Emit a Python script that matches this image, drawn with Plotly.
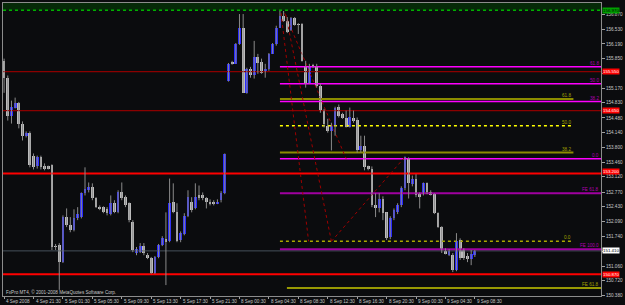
import plotly.graph_objects as go

# ---- candle data (EURJPY M30) ----
open_ = [155.80,155.41,154.53,154.72,154.83,154.35,154.07,154.14,153.61,153.36,
         153.57,153.36,153.36,153.39,151.52,151.54,151.15,152.19,152.00,151.89,
         152.16,152.19,152.74,152.81,152.88,152.63,152.42,152.42,152.37,152.26,
         152.51,152.30,152.76,152.65,152.51,152.07,151.36,151.38,151.52,151.31,
         151.24,150.90,151.27,151.54,151.68,151.63,152.53,152.30,151.66,151.80,
         152.21,152.53,152.39,152.69,152.69,152.63,152.55,152.55,152.51,152.58,
         152.74,155.34,155.75,155.73,156.19,156.56,155.06,155.62,155.48,155.89,
         155.78,155.55,155.62,155.96,156.19,156.56,156.84,156.72,156.51,156.79,
         156.65,156.65,155.68,155.27,155.71,155.68,155.22,154.65,154.30,154.19,
         154.30,154.74,154.56,154.49,154.26,154.49,154.44,153.73,153.84,153.36,
         153.31,152.46,152.40,152.60,152.30,151.73,152.16,152.30,152.46,152.86,
         153.54,152.95,153.08,152.74,152.74,152.97,152.76,152.72,152.28,151.96,
         151.40,151.31,151.31,150.97,151.66,151.43,151.29,151.22,151.31]
high_ = [155.85,155.46,154.88,154.95,154.85,154.40,154.17,154.17,153.66,153.61,
         153.61,153.43,153.38,153.41,151.57,151.59,152.23,152.39,152.19,152.37,
         152.42,152.76,153.34,152.99,152.97,152.65,152.46,152.44,152.42,152.69,
         152.58,152.81,152.99,152.69,152.53,152.12,151.50,151.59,151.59,151.36,
         151.27,151.29,151.57,151.75,152.30,153.08,152.97,152.51,151.86,152.28,
         152.81,152.65,152.97,152.92,152.76,152.65,152.60,152.58,152.60,152.79,
         153.66,155.75,155.80,156.21,156.88,156.88,155.64,155.66,156.26,155.96,
         155.85,155.73,155.98,156.21,156.61,156.95,156.95,156.81,156.81,156.81,
         156.67,156.67,155.80,155.73,155.73,155.73,155.27,154.69,154.46,154.37,
         154.74,154.79,154.60,154.65,154.72,154.65,154.49,154.07,154.07,153.38,
         153.36,152.74,152.74,152.67,152.30,152.21,152.39,152.51,152.90,153.59,
         153.57,153.15,153.18,152.76,152.99,152.99,152.81,152.74,152.30,151.98,
         151.47,151.45,151.36,151.82,151.70,151.47,151.36,151.43,151.43]
low_ = [155.06,154.42,154.35,154.70,154.24,153.96,154.03,153.34,153.29,153.31,
        153.29,153.27,153.29,151.43,151.43,150.51,151.13,151.96,151.84,151.86,
        152.12,152.16,152.69,152.76,152.58,152.40,152.35,152.28,152.23,152.23,
        152.28,152.28,152.58,152.42,152.07,151.38,151.31,151.36,151.31,151.22,
        150.88,150.88,151.24,151.52,150.62,151.61,152.28,151.61,151.61,151.77,
        152.19,152.30,152.37,152.58,152.58,152.39,152.46,152.46,152.49,152.53,
        152.72,155.32,155.71,155.73,156.17,155.06,155.04,155.41,155.39,155.50,
        155.50,155.41,155.57,155.96,156.15,156.56,156.70,156.44,156.49,156.61,
        156.42,155.78,155.18,155.27,155.64,155.18,154.60,154.26,154.14,153.73,
        154.07,154.49,154.46,154.26,154.26,154.37,153.68,153.68,153.27,153.27,
        152.42,152.19,152.30,152.12,151.66,151.68,152.12,152.26,152.42,152.81,
        152.62,152.90,152.65,152.39,152.69,152.72,152.69,152.26,151.94,151.36,
        151.33,151.29,150.92,150.94,151.20,151.20,151.15,151.08,151.27]
close_ = [155.41,154.53,154.74,154.83,154.35,154.07,154.14,153.39,153.34,153.57,
          153.34,153.31,153.31,151.50,151.50,151.15,152.19,152.00,151.89,152.16,
          152.26,152.74,152.83,152.88,152.63,152.42,152.40,152.30,152.28,152.51,
          152.30,152.76,152.63,152.46,152.12,151.43,151.45,151.52,151.36,151.24,
          150.90,151.27,151.54,151.70,151.61,152.51,152.30,151.63,151.82,152.21,
          152.65,152.35,152.65,152.65,152.63,152.53,152.51,152.51,152.55,152.74,
          153.64,155.73,155.73,156.19,156.56,155.06,155.62,155.48,155.89,155.75,
          155.52,155.62,155.96,156.19,156.56,156.84,156.72,156.47,156.79,156.63,
          156.63,155.80,155.27,155.68,155.66,155.22,154.65,154.33,154.19,154.30,
          154.72,154.53,154.49,154.28,154.51,154.42,153.73,153.84,153.34,153.31,
          152.46,152.40,152.60,152.28,151.70,152.16,152.35,152.46,152.86,153.57,
          152.97,153.08,152.69,152.65,152.97,152.76,152.72,152.28,151.96,151.43,
          151.36,151.40,150.97,151.63,151.24,151.24,151.22,151.34,151.40]
bars = list(range(len(open_)))

# ---- axis labels ----
time_tick_idx = [0, 8, 16, 24, 32, 40, 48, 56, 64, 72, 80, 88, 96, 104, 112, 120, 128]
time_tick_text = ["4 Sep 2008", "4 Sep 21:30", "5 Sep 01:30", "5 Sep 05:30", "5 Sep 09:30",
                  "5 Sep 13:30", "5 Sep 17:30", "5 Sep 21:30", "8 Sep 00:30", "8 Sep 04:30",
                  "8 Sep 08:30", "8 Sep 12:30", "8 Sep 16:30", "8 Sep 20:30", "9 Sep 00:30",
                  "9 Sep 04:30", "9 Sep 08:30"]
price_ticks = [156.870, 156.530, 156.190, 155.850, 155.510, 155.170, 154.830, 154.480,
               154.140, 153.800, 153.460, 153.120, 152.770, 152.430, 152.090, 151.740,
               151.400, 151.060, 150.720, 150.380]
# tick labels hidden behind the coloured price boxes in the reference
price_ticks_hidden = [155.510, 151.400]

# ---- horizontal levels ----
green_level = 156.97
darkred_levels = [155.55, 154.65]
red_levels = [153.20, 150.87]
bid_price = 151.41

# Fibonacci retracement (magenta, to right edge)
fibA_labels = ["0.0", "38.2", "50.0", "61.8"]
fibA_prices = [153.54, 154.86, 155.27, 155.66]
# Fibonacci retracement (olive/yellow, ends before edge)
fibB_labels = ["0.0", "38.2", "50.0", "61.8"]
fibB_prices = [151.63, 153.68, 154.30, 154.92]
fibB_colors = ["#a8a800", "#8c8c00", "#ffff00", "#8c8c00"]
fibB_dash = ["dot", "solid", "dot", "solid"]
# Fibonacci expansion levels
fe_labels = ["FE 61.8", "FE 100.0"]
fe_prices = [152.74, 151.45]
fe2_label = "FE 61.8"
fe2_price = 150.55

# dotted zig-zag trend lines (bar index, price)
zig_x = [[75.3, 82.8], [76.6, 89.0], [76.3, 93.0], [89.0, 108.9]]
zig_y = [[156.90, 151.63], [156.86, 151.63], [156.90, 153.54], [151.63, 153.57]]

X0, X1 = -0.3, 162.3
FIB_START = 75.0
FIBB_END = 154.8
FE2_START = 76.9
Y0, Y1 = 150.368, 157.135

BG = "#0b0c0e"
FONT = "Liberation Sans"
TXT = "#c8c8c8"

fig = go.Figure()

# green band at top
fig.add_shape(type="rect", xref="x", yref="y", x0=X0, x1=X1, y0=green_level, y1=Y1,
              fillcolor="#062a08", line_width=0, layer="below")

def hline(y, x0, x1, color, width=1, dash="solid"):
    fig.add_trace(go.Scatter(x=[x0, x1], y=[y, y], mode="lines",
                             line=dict(color=color, width=width, dash=dash),
                             hoverinfo="skip", showlegend=False))

hline(green_level, X0, X1, "#00b000", 1.5, "dot")
hline(bid_price, X0, X1, "#46505a", 1)
for p in darkred_levels:
    hline(p, X0, X1, "#8b0000", 1.2)
for p in red_levels:
    hline(p, X0, X1, "#ff0000", 2)

for p in fibA_prices:
    hline(p, FIB_START, X1, "#ff00ff", 1.5)
for p, c, d in zip(fibB_prices, fibB_colors, fibB_dash):
    hline(p, FIB_START, FIBB_END, c, 2 if d == "solid" else 1.5, d)
for p in fe_prices:
    hline(p, FIB_START, X1, "#a000a0", 2)
hline(fe2_price, FE2_START, X1, "#c8c800", 1.5)

for xs, ys in zip(zig_x, zig_y):
    fig.add_trace(go.Scatter(x=xs, y=ys, mode="lines",
                             line=dict(color="#a00000", width=1, dash="dot"),
                             hoverinfo="skip", showlegend=False))

# candles: wicks + bodies
wx, wy = [], []
for i, h, l in zip(bars, high_, low_):
    wx += [i, i, None]
    wy += [l, h, None]
fig.add_trace(go.Scatter(x=wx, y=wy, mode="lines", line=dict(color="#8a8a8a", width=1),
                         hoverinfo="skip", showlegend=False))
body_base = [min(o, c) for o, c in zip(open_, close_)]
body_len = [max(abs(c - o), 0.02) for o, c in zip(open_, close_)]
body_col = ["#2a2aff" if c >= o else "#bcbcbc" for o, c in zip(open_, close_)]
fig.add_trace(go.Bar(x=bars, y=body_len, base=body_base, width=0.75,
                     marker=dict(color=body_col, line=dict(width=0)),
                     hoverinfo="skip", showlegend=False))

ann = []
small = dict(family=FONT, size=4.6, color=TXT)
for i, t in zip(time_tick_idx, time_tick_text):
    ann.append(dict(x=i, y=0, xref="x", yref="paper", text=t, showarrow=False,
                    xanchor="left", yanchor="top", yshift=-1, font=small))
ann.append(dict(x=0, y=0, xref="paper", yref="paper", xanchor="left", yanchor="bottom",
                xshift=1, yshift=-1, showarrow=False,
                text="FxPro MT4, © 2001-2008 MetaQuotes Software Corp.", font=small))

lab = dict(family=FONT, size=4.6)
for t, p in zip(fibA_labels, fibA_prices):
    ann.append(dict(x=X1, y=p, xref="x", yref="y", text=t, showarrow=False,
                    xanchor="right", yanchor="bottom", yshift=-1,
                    font=dict(lab, color="#b000b0")))
for t, p in zip(fibB_labels, fibB_prices):
    ann.append(dict(x=FIBB_END, y=p, xref="x", yref="y", text=t, showarrow=False,
                    xanchor="right", yanchor="bottom", yshift=-1,
                    font=dict(lab, color="#a0a000")))
for t, p in zip(fe_labels, fe_prices):
    ann.append(dict(x=X1, y=p, xref="x", yref="y", text=t, showarrow=False,
                    xanchor="right", yanchor="bottom", yshift=-1,
                    font=dict(lab, color="#b000b0")))
ann.append(dict(x=X1, y=fe2_price, xref="x", yref="y", text=fe2_label, showarrow=False,
                xanchor="right", yanchor="bottom", yshift=-1,
                font=dict(lab, color="#a0a000")))

# price boxes on right axis
boxes = [(green_level, "#00a000", "#000000", 0), (darkred_levels[0], "#ff0000", "#ffffff", 0),
         (darkred_levels[1], "#ff0000", "#ffffff", 0), (red_levels[0], "#ff0000", "#ffffff", 1.5),
         (red_levels[1], "#ff0000", "#ffffff", 0), (bid_price, "#ffffff", "#000000", 0)]
for p, bg, fg, ys in boxes:
    ann.append(dict(x=1, y=p, xref="paper", yref="y", text=f"{p:.3f}", showarrow=False,
                    xanchor="left", yanchor="middle", xshift=1, yshift=ys, bgcolor=bg,
                    height=4.5, borderpad=0, font=dict(family=FONT, size=4.4, color=fg)))

tick_text = ["" if v in price_ticks_hidden else f"{v:.3f}" for v in price_ticks]

fig.update_layout(
    width=625, height=305,
    margin=dict(l=2, r=18, t=2, b=9),
    paper_bgcolor=BG, plot_bgcolor=BG,
    showlegend=False, bargap=0,
    annotations=ann,
    xaxis=dict(range=[X0, X1], showgrid=False, zeroline=False,
               tickvals=time_tick_idx, ticktext=[""] * len(time_tick_idx),
               ticks="outside", ticklen=2, tickcolor="#a0a0a0",
               showline=True, linecolor="#8c8c8c", linewidth=1, mirror=True),
    yaxis=dict(range=[Y0, Y1], side="right", showgrid=False, zeroline=False,
               tickvals=price_ticks, ticktext=tick_text,
               ticks="outside", ticklen=3, tickcolor="#a0a0a0",
               tickfont=dict(family=FONT, size=4.6, color=TXT),
               showline=True, linecolor="#8c8c8c", linewidth=1, mirror=True),
)

fig.write_html("out.html")
